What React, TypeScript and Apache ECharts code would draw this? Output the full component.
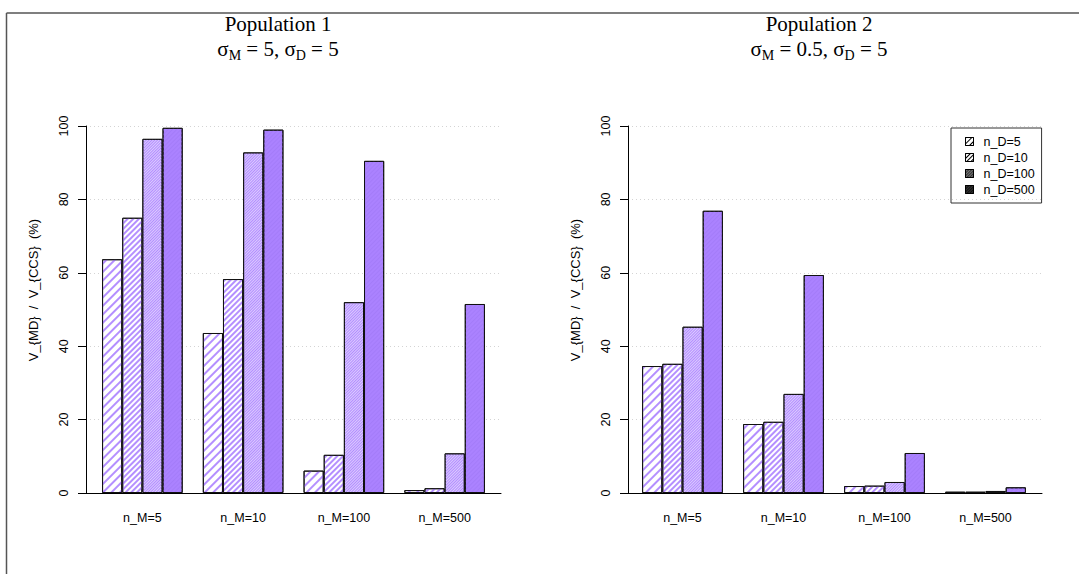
import React, { useEffect, useRef } from 'react';
import * as echarts from 'echarts';

const categories = ['n_M=5', 'n_M=10', 'n_M=100', 'n_M=500'];
const seriesNames = ['n_D=5', 'n_D=10', 'n_D=100', 'n_D=500'];
const yTicks = [0, 20, 40, 60, 80, 100];

const pop1_nD5 = [63.7, 43.6, 6.1, 0.8];
const pop1_nD10 = [75.0, 58.3, 10.4, 1.3];
const pop1_nD100 = [96.5, 92.8, 52.0, 10.8];
const pop1_nD500 = [99.5, 99.0, 90.5, 51.5];

const pop2_nD5 = [34.6, 18.8, 1.9, 0.35];
const pop2_nD10 = [35.2, 19.4, 2.0, 0.35];
const pop2_nD100 = [45.3, 27.0, 3.0, 0.55];
const pop2_nD500 = [76.9, 59.4, 10.9, 1.55];

const purple = '#ab82ff';
const SANS = 'Liberation Sans';
const SERIF = 'Liberation Serif';

const barStyles = [
  { color: '#ffffff', decal: { symbol: 'rect', symbolSize: 1, color: '#b48fff', dashArrayX: [1, 0], dashArrayY: [1.1, 3.6], rotation: -Math.PI / 4 } },
  { color: '#ffffff', decal: { symbol: 'rect', symbolSize: 1, color: '#b48fff', dashArrayX: [1, 0], dashArrayY: [1.1, 1.8], rotation: -Math.PI / 4 } },
  { color: '#dccbff', decal: { symbol: 'rect', symbolSize: 1, color: '#b28dff', dashArrayX: [1, 0], dashArrayY: [1, 1], rotation: -Math.PI / 4 } },
  { color: purple, decal: { symbol: 'rect', symbolSize: 1, color: '#a47cf9', dashArrayX: [1, 0], dashArrayY: [1, 2], rotation: -Math.PI / 4 } },
];

const legendStyles = [
  { color: '#ffffff', decal: { symbol: 'rect', symbolSize: 1, color: '#000', dashArrayX: [1, 0], dashArrayY: [1, 2.5], rotation: -Math.PI / 4 } },
  { color: '#ffffff', decal: { symbol: 'rect', symbolSize: 1, color: '#000', dashArrayX: [1, 0], dashArrayY: [1, 1.2], rotation: -Math.PI / 4 } },
  { color: '#777777', decal: { symbol: 'rect', symbolSize: 1, color: '#333', dashArrayX: [1, 0], dashArrayY: [1, 1], rotation: -Math.PI / 4 } },
  { color: '#333333', decal: { symbol: 'rect', symbolSize: 1, color: '#111', dashArrayX: [1, 0], dashArrayY: [1, 1], rotation: -Math.PI / 4 } },
];

const pop1 = [pop1_nD5, pop1_nD10, pop1_nD100, pop1_nD500];
const pop2 = [pop2_nD5, pop2_nD10, pop2_nD100, pop2_nD500];

function buildOption() {
  const gridTop = 126;
  const gridH = 367;
  const grids = [
    { left: 86, top: gridTop, width: 415, height: gridH },
    { left: 92, top: gridTop, width: 403, height: gridH },
    { left: 628, top: gridTop, width: 414, height: gridH },
    { left: 632, top: gridTop, width: 404, height: gridH },
  ];
  const mkWideX = (gi: number) => ({
    type: 'value', gridIndex: gi, min: 0, max: 1,
    axisLine: { show: true, lineStyle: { color: '#000', width: 1 } },
    axisTick: { show: false }, axisLabel: { show: false }, splitLine: { show: false },
  });
  const mkWideY = (gi: number) => ({
    type: 'value', gridIndex: gi, min: 0, max: 100, interval: 20,
    name: 'V_{MD}  /  V_{CCS}  (%)',
    nameLocation: 'middle', nameRotate: 90, nameGap: 46,
    nameTextStyle: { fontFamily: SANS, fontSize: 13, color: '#000', padding: [0, 0, 0, 39] },
    axisLine: { show: true, lineStyle: { color: '#000', width: 1 } },
    axisTick: { show: true, length: 8, lineStyle: { color: '#000' } },
    axisLabel: { rotate: 90, margin: 16, fontFamily: SANS, fontSize: 12.5, color: '#000',
      formatter: (v: number) => (yTicks.indexOf(v) >= 0 ? String(v) : '') },
    splitLine: { show: true, lineStyle: { color: '#d4d4d4', type: [1, 3], width: 1 } },
  });
  const mkCatX = (gi: number) => ({
    type: 'category', gridIndex: gi, data: categories,
    axisLine: { show: false }, axisTick: { show: false },
    axisLabel: { margin: 18, fontFamily: SANS, fontSize: 12.5, color: '#000' },
  });
  const mkHiddenY = (gi: number) => ({ type: 'value', gridIndex: gi, min: 0, max: 100, show: false });

  const series: any[] = [];
  [pop1, pop2].forEach((pop, p) => {
    pop.forEach((vals, k) => {
      series.push({
        type: 'bar', name: seriesNames[k], data: vals,
        xAxisIndex: p * 2 + 1, yAxisIndex: p * 2 + 1,
        barGap: '0%', barCategoryGap: '20%',
        itemStyle: { color: barStyles[k].color, decal: barStyles[k].decal, borderColor: '#111', borderWidth: 1 },
      });
    });
  });

  const titleStyle = { fontFamily: SERIF, fontSize: 21, fontWeight: 'normal', color: '#000', lineHeight: 24 };
  const rich = {
    n: { fontFamily: SERIF, fontSize: 21, fontWeight: 'normal', color: '#000', lineHeight: 26 },
    s: { fontFamily: SERIF, fontSize: 14, fontWeight: 'normal', color: '#000', lineHeight: 12, verticalAlign: 'bottom' },
  };
  const subStyle = { fontFamily: SERIF, fontSize: 21, fontWeight: 'normal', color: '#000', rich };

  return {
    animation: false,
    backgroundColor: '#ffffff',
    title: [
      { text: 'Population 1', left: 278, top: 12, textAlign: 'center', padding: 0, textStyle: titleStyle },
      { text: '{n|σ}{s|M}{n| = 5, σ}{s|D}{n| = 5}', left: 278, top: 36, textAlign: 'center', padding: 0, textStyle: subStyle },
      { text: 'Population 2', left: 819, top: 12, textAlign: 'center', padding: 0, textStyle: titleStyle },
      { text: '{n|σ}{s|M}{n| = 0.5, σ}{s|D}{n| = 5}', left: 819, top: 36, textAlign: 'center', padding: 0, textStyle: subStyle },
    ],
    legend: {
      orient: 'vertical', left: 951, top: 128,
      padding: [7, 7, 7, 14],
      borderColor: '#333', borderWidth: 1, borderRadius: 0,
      itemWidth: 8, itemHeight: 8, itemGap: 3,
      selectedMode: false,
      icon: 'rect',
      textStyle: { fontFamily: SANS, fontSize: 12.5, color: '#000', lineHeight: 13, padding: [0, 0, 0, 5] },
      data: seriesNames.map((n, k) => ({
        name: n,
        itemStyle: { color: legendStyles[k].color, decal: legendStyles[k].decal, borderColor: '#000', borderWidth: 1 },
      })),
    },
    grid: grids,
    xAxis: [mkWideX(0), mkCatX(1), mkWideX(2), mkCatX(3)],
    yAxis: [mkWideY(0), mkHiddenY(1), mkWideY(2), mkHiddenY(3)],
    series,
    graphic: [
      { type: 'line', shape: { x1: 6.5, y1: 13, x2: 1079, y2: 13 }, style: { stroke: '#555', lineWidth: 1.5 }, silent: true },
      { type: 'line', shape: { x1: 6.5, y1: 13, x2: 6.5, y2: 574 }, style: { stroke: '#555', lineWidth: 1.5 }, silent: true },
    ],
  };
}

export default function App() {
  const ref = useRef<HTMLDivElement>(null);
  useEffect(() => {
    if (!ref.current) return;
    const chart = echarts.init(ref.current, null, { renderer: 'svg' });
    chart.setOption(buildOption() as any);
    return () => chart.dispose();
  }, []);
  return (
    <div
      ref={ref}
      style={{ position: 'fixed', left: 0, top: 0, width: 1079, height: 574, background: '#fff' }}
    />
  );
}
